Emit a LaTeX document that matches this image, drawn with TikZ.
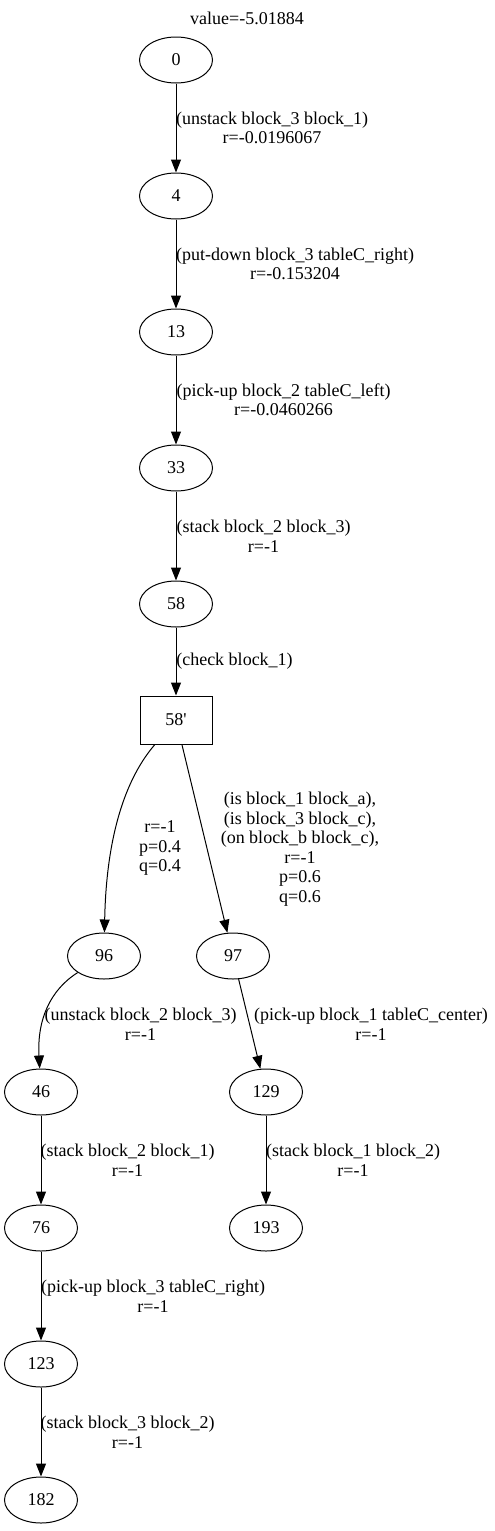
\documentclass[tikz,border=0pt]{standalone}
\usepackage{fontspec}
\setmainfont{Liberation Serif}
\usetikzlibrary{shapes.geometric,arrows.meta}
\begin{document}
\begin{tikzpicture}[x=1pt,y=-1pt,
  txt/.style={font=\fontsize{18}{19.5}\selectfont},
  st/.style={ellipse, draw, line width=1pt, minimum width=73pt, minimum height=46pt, inner sep=0pt, txt},
  chk/.style={rectangle, draw, line width=1pt, minimum width=72pt, minimum height=48pt, inner sep=0pt, txt},
  lbl/.style={align=center, inner sep=0pt, txt},
  edge/.style={line width=1pt, -{Triangle[length=13pt,width=10pt]}}]
\useasboundingbox (0,0) rectangle (495,1531);
\node[lbl] (title) at (247,18) {value=-5.01884};
\node[st] (n0) at (176,60) {0};
\node[st] (n4) at (176,196) {4};
\node[st] (n13) at (176,332) {13};
\node[st] (n33) at (176,468) {33};
\node[st] (n58) at (176,604) {58};
\node[chk] (b58) at (176,720) {58\textquotesingle};
\node[st] (n96) at (104,956) {96};
\node[st] (n97) at (233,956) {97};
\node[st] (n46) at (41,1092) {46};
\node[st] (n129) at (266,1092) {129};
\node[st] (n76) at (41,1228) {76};
\node[st] (n193) at (266,1228) {193};
\node[st] (n123) at (41,1364) {123};
\node[st] (n182) at (41,1500) {182};
\draw[edge] (n0) -- (n4);
\draw[edge] (n4) -- (n13);
\draw[edge] (n13) -- (n33);
\draw[edge] (n33) -- (n58);
\draw[edge] (n58) -- (b58);
\draw[edge] (b58) .. controls (120,785) and (106,850) .. (n96);
\draw[edge] (b58) -- (n97);
\draw[edge] (n96) .. controls (50,990) and (37,1020) .. (n46);
\draw[edge] (n97) -- (n129);
\draw[edge] (n46) -- (n76);
\draw[edge] (n129) -- (n193);
\draw[edge] (n76) -- (n123);
\draw[edge] (n123) -- (n182);
\node[lbl] (l1) at (272,128) {(unstack block\_3 block\_1)\\r=-0.0196067};
\node[lbl] (l2) at (295,264) {(put-down block\_3 tableC\_right)\\r=-0.153204};
\node[lbl] (l3) at (283.5,400) {(pick-up block\_2 tableC\_left)\\r=-0.0460266};
\node[lbl] (l4) at (263.5,536) {(stack block\_2 block\_3)\\r=-1};
\node[lbl] (l5) at (234.5,661) {(check block\_1)};
\node[lbl] (l6) at (160,848) {r=-1\\p=0.4\\q=0.4};
\node[lbl] (l7) at (300,849) {(is block\_1 block\_a),\\(is block\_3 block\_c),\\(on block\_b block\_c),\\r=-1\\p=0.6\\q=0.6};
\node[lbl] (l8) at (140.5,1024) {(unstack block\_2 block\_3)\\r=-1};
\node[lbl] (l9) at (371,1024) {(pick-up block\_1 tableC\_center)\\r=-1};
\node[lbl] (l10) at (127.5,1160) {(stack block\_2 block\_1)\\r=-1};
\node[lbl] (l11) at (353,1160) {(stack block\_1 block\_2)\\r=-1};
\node[lbl] (l12) at (153,1296) {(pick-up block\_3 tableC\_right)\\r=-1};
\node[lbl] (l13) at (127.5,1432) {(stack block\_3 block\_2)\\r=-1};
\end{tikzpicture}
\end{document}
